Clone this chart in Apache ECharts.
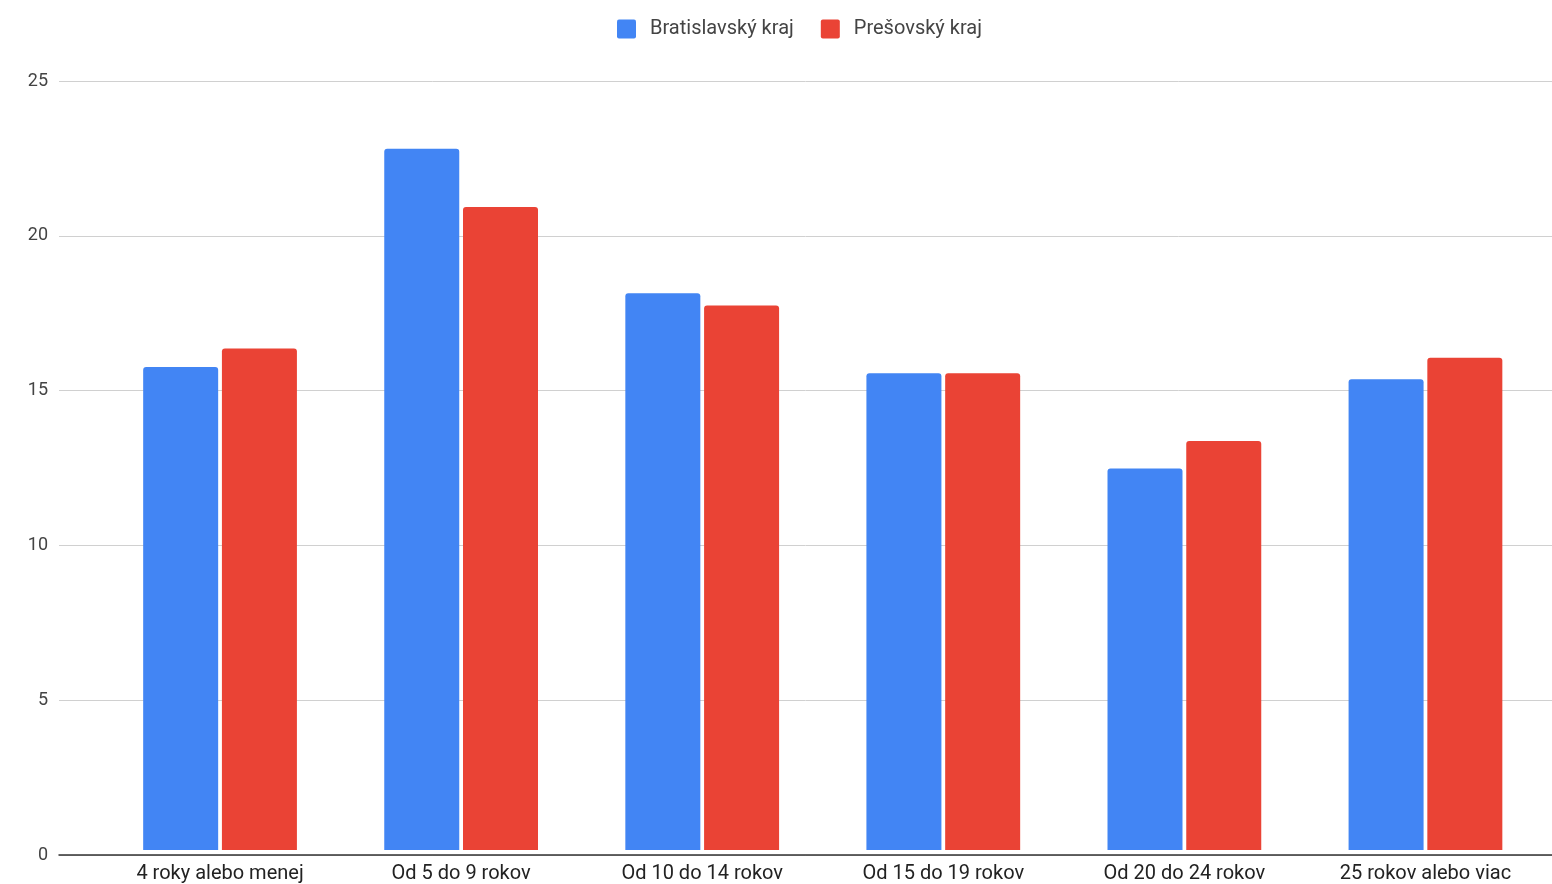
<!DOCTYPE html>
<html>
<head>
<meta charset="utf-8">
<script src="https://cdn.jsdelivr.net/npm/echarts@6/dist/echarts.min.js"></script>
<style>
html,body{margin:0;padding:0;background:#fff;}
#chart{width:1552px;height:884px;}
</style>
</head>
<body>
<div id="chart"></div>
<script>
const categories = ['4 roky alebo menej','Od 5 do 9 rokov','Od 10 do 14 rokov','Od 15 do 19 rokov','Od 20 do 24 rokov','25 rokov alebo viac'];
const bratislavsky = [15.7, 22.8, 18.1, 15.5, 12.4, 15.3];
const presovsky = [16.3, 20.9, 17.7, 15.5, 13.3, 16.0];
const seriesNames = ['Bratislavský kraj','Prešovský kraj'];
const yTicks = [0, 5, 10, 15, 20, 25];

const chart = echarts.init(document.getElementById('chart'));
const font = 'Roboto, Arial, sans-serif';
chart.setOption({
  animation: false,
  legend: {
    top: 14, left: 612,
    itemWidth: 19, itemHeight: 19, itemGap: 27,
    icon: 'path://M2,0H17Q19,0 19,2V17Q19,19 17,19H2Q0,19 0,17V2Q0,0 2,0Z',
    textStyle: { fontFamily: font, fontSize: 20, color: '#444', padding: [0,0,0,9] },
    data: seriesNames
  },
  grid: [
    { left: 59, right: 0, top: 81, bottom: 29, containLabel: false },
    { left: 99.5, right: 6, top: 81, bottom: 29, containLabel: false }
  ],
  xAxis: [
    { type: 'category', gridIndex: 0, data: [''], axisLine: { show: true, lineStyle: { color: '#333', width: 1.5 } }, axisTick: { show: false }, axisLabel: { show: false } },
    { type: 'category', gridIndex: 1, data: categories,
      axisLine: { show: false }, axisTick: { show: false },
      axisLabel: { fontFamily: font, fontSize: 20, color: '#222', margin: 14, interval: 0 } }
  ],
  yAxis: [
    { type: 'value', gridIndex: 0, min: yTicks[0], max: yTicks[yTicks.length-1], interval: 5,
      axisLine: { show: false }, axisTick: { show: false },
      axisLabel: { fontFamily: font, fontSize: 18, color: '#444', margin: 11 },
      splitLine: { lineStyle: { color: '#d0d0d0', width: 1 } } },
    { type: 'value', gridIndex: 1, min: 0, max: 25, interval: 5, show: false, splitLine: { show: false } }
  ],
  series: [
    { name: seriesNames[0], type: 'bar', xAxisIndex: 1, yAxisIndex: 1, data: bratislavsky,
      barWidth: 75, barGap: '5%', itemStyle: { color: '#4285F4', borderRadius: [3,3,0,0] } },
    { name: seriesNames[1], type: 'bar', xAxisIndex: 1, yAxisIndex: 1, data: presovsky,
      barWidth: 75, barGap: '5%', itemStyle: { color: '#EA4335', borderRadius: [3,3,0,0] } }
  ]
});
</script>
</body>
</html>
